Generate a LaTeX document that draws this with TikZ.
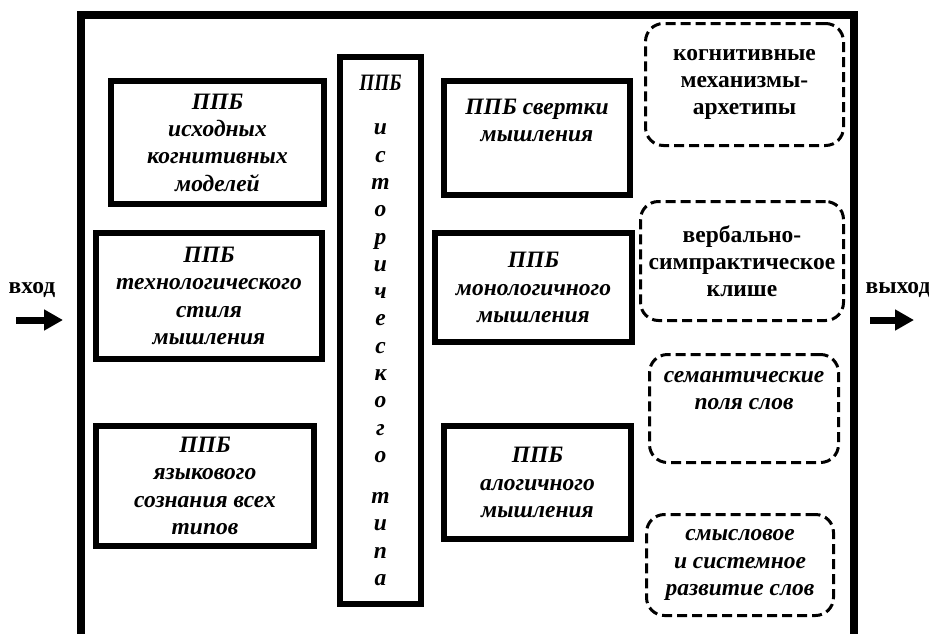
\documentclass[tikz,border=0pt]{standalone}
\usepackage{fontspec}
\setmainfont{Liberation Serif}
\usepackage{tikz}
\usetikzlibrary{arrows.meta, positioning}
\newcommand{\boxfont}{\fontsize{23.5}{27.3}\selectfont\bfseries}
\tikzset{
  block/.style={rectangle, draw=black, line width=6pt, inner sep=0pt,
    align=center, font=\boxfont\itshape},
  colblock/.style={rectangle, draw=black, line width=5.5pt, inner sep=0pt,
    align=center, font=\boxfont\itshape},
  dashblock/.style={rectangle, draw=black, line width=3pt, inner sep=0pt,
    dash pattern=on 10pt off 5pt, rounded corners=18pt,
    align=center, font=\boxfont},
  ioarrow/.style={line width=7pt, -{Triangle[length=19pt, width=20pt]}},
  frameline/.style={line width=7.5pt, line cap=butt},
  iolabel/.style={font=\boxfont}
}

\begin{document}
\begin{tikzpicture}[x=1pt, y=-1pt]
  \useasboundingbox (0,0) rectangle (929,633);

  % outer frame, open at the bottom
  \draw[frameline] (81,640) -- (81,15) -- (854,15) -- (854,640);

  % left column
  \node[block, minimum width=213, minimum height=123] (initial) at (217.5,142.5)
    {ППБ\\исходных\\когнитивных\\моделей};
  \node[block, minimum width=226, minimum height=126] (techno) at (209,296)
    {ППБ\\технологического\\стиля\\мышления};
  \node[block, minimum width=218, minimum height=120] (lingua) at (205,486)
    {ППБ\\языкового\\сознания всех\\типов};

  % historical type column
  \node[colblock, minimum width=81, minimum height=547] (histor) at (380.5,330.5)
    {\scalebox{0.82}[1]{ППБ}\\[16.7pt]и\\с\\т\\о\\р\\и\\ч\\е\\с\\к\\о\\г\\о\\[13.7pt]т\\и\\п\\а};

  % right column
  \node[block, minimum width=186, minimum height=114] (folding) at (537,138)
    {ППБ свертки\\мышления\\\strut};
  \node[block, minimum width=197, minimum height=109] (monolog) at (533.5,287.5)
    {ППБ\\монологичного\\мышления};
  \node[block, minimum width=187, minimum height=113] (alogic) at (537.5,482.5)
    {ППБ\\алогичного\\мышления};

  % dashed boxes
  \node[dashblock, minimum width=198, minimum height=122] (archetype) at (744.5,84.5)
    {когнитивные\\механизмы-\\архетипы};
  \node[dashblock, minimum width=203, minimum height=119] (cliche) at (742,261)
    {вербально-\\симпрактическое\\клише};
  \node[dashblock, minimum width=189, minimum height=108, font=\boxfont\itshape] (fields) at (744,408.5)
    {семантические\\поля слов\\\strut};
  \node[dashblock, minimum width=187, minimum height=101, font=\boxfont\itshape] (develop) at (740,565)
    {смысловое\\и системное\\развитие слов};

  % input and output
  \node[iolabel] (inlabel) at (32,290) {вход};
  \coordinate (inA) at (16,320);
  \coordinate (inB) at (63,320);
  \draw[ioarrow] (inA) -- (inB);

  \node[iolabel] (outlabel) at (898,290) {выход};
  \coordinate (outA) at (870,320);
  \coordinate (outB) at (914,320);
  \draw[ioarrow] (outA) -- (outB);
\end{tikzpicture}
\end{document}
